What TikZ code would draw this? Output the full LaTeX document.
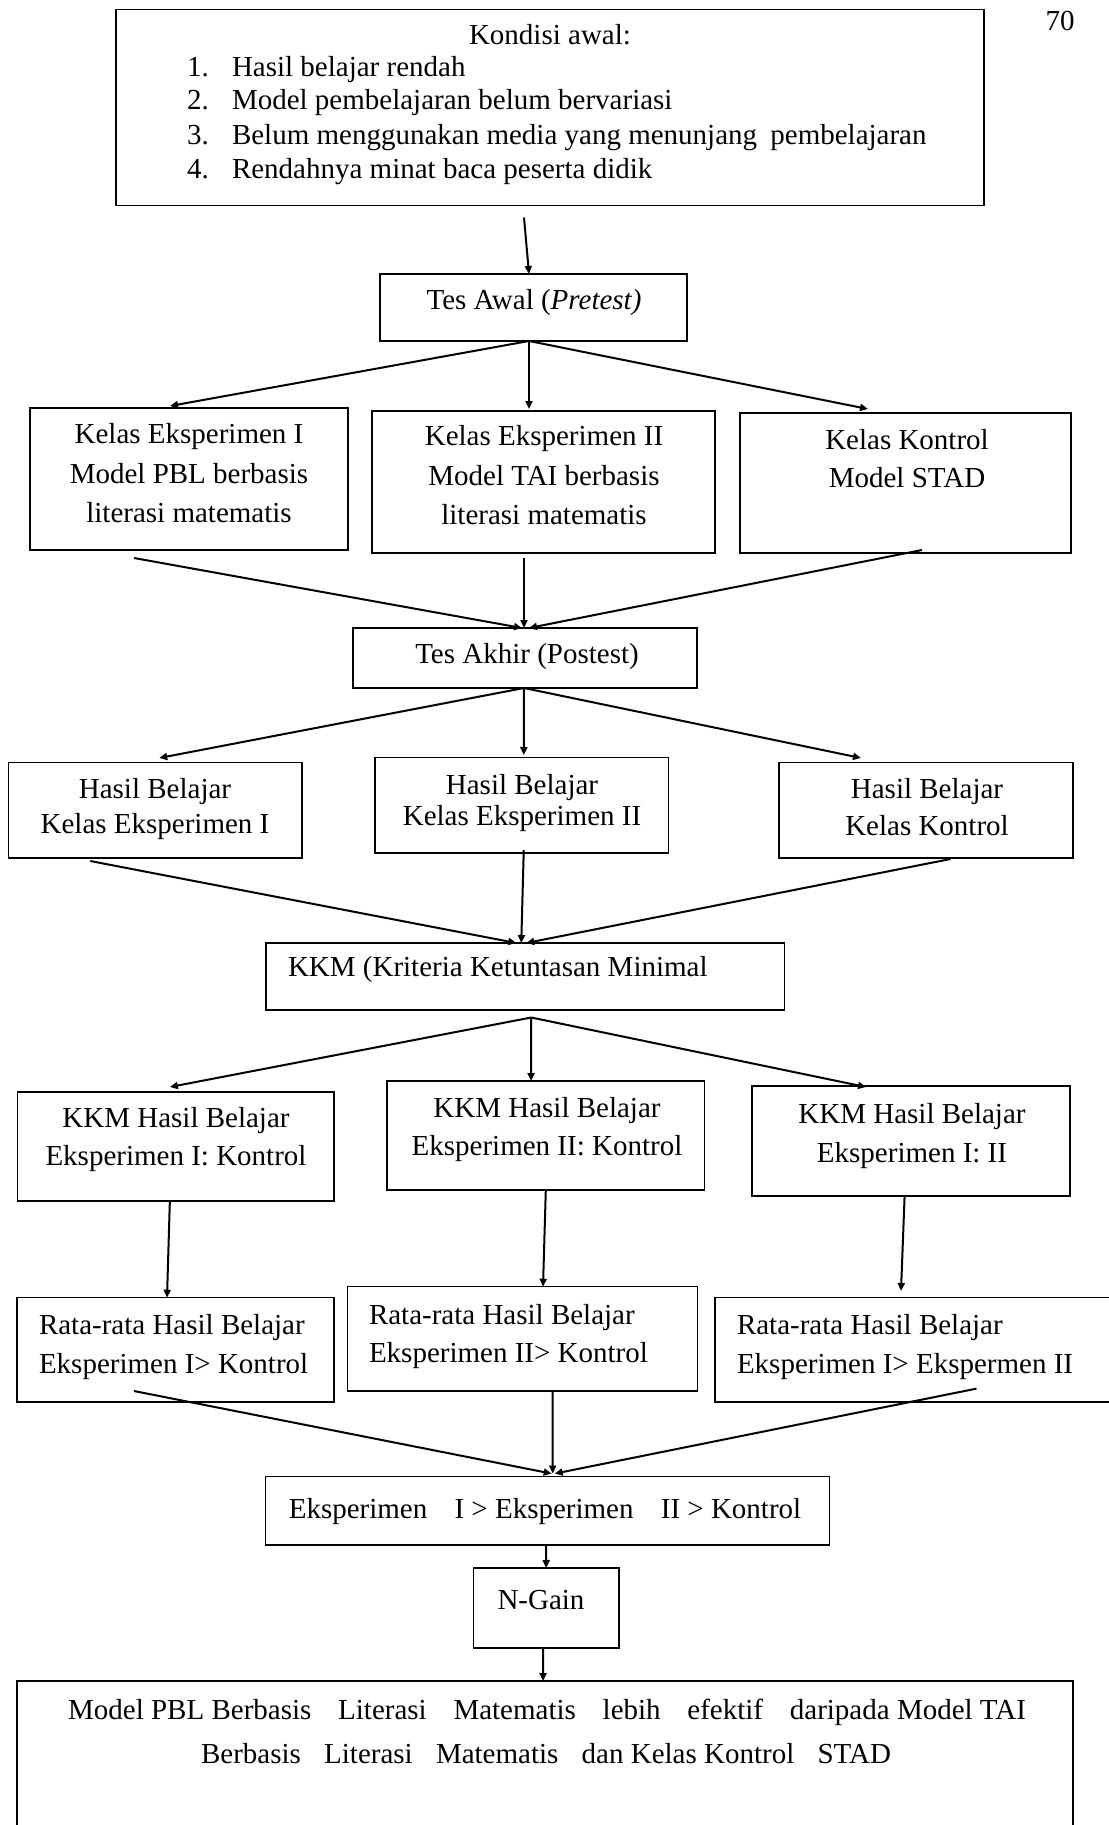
\documentclass[tikz,border=0pt]{standalone}
\usepackage{fontspec}
\setmainfont{Liberation Serif}
\usetikzlibrary{arrows.meta,calc}
\begin{document}
\begin{tikzpicture}[x=1pt,y=-1pt,
  box/.style={draw, line width=1.5pt, inner sep=0pt, outer sep=0pt, anchor=north west},
  txt/.style={inner sep=0pt, outer sep=0pt, anchor=base, font=\fontsize{29}{34}\selectfont},
  ltxt/.style={txt, anchor=base west},
  arr/.style={line width=2pt, -{Triangle[length=8pt,width=7pt]}},
]
\useasboundingbox (0,0) rectangle (1108,1825);

% ---------- boxes ----------
\node[box, minimum width=868pt, minimum height=196pt] (top) at (116,9.5) {};
\node[box, minimum width=307pt, minimum height=67pt] (tesawal) at (380,274) {};
\node[box, minimum width=318pt, minimum height=142pt] (ke1) at (30,408) {};
\node[box, minimum width=343pt, minimum height=142pt] (ke2) at (372,411) {};
\node[box, minimum width=331pt, minimum height=140pt] (kk) at (740,413) {};
\node[box, minimum width=344pt, minimum height=60pt] (tesakhir) at (353,628) {};
\node[box, minimum width=293.5pt, minimum height=95.5pt] (hb1) at (8.5,762.5) {};
\node[box, minimum width=293.5pt, minimum height=95.5pt] (hb2) at (375,757.5) {};
\node[box, minimum width=294pt, minimum height=95.5pt] (hb3) at (779,762.5) {};
\node[box, minimum width=518.5pt, minimum height=67pt] (kkm) at (266,943) {};
\node[box, minimum width=316.3pt, minimum height=109pt] (k1) at (17.7,1092) {};
\node[box, minimum width=317.6pt, minimum height=109pt] (k2) at (387,1081) {};
\node[box, minimum width=318pt, minimum height=110pt] (k3) at (752,1086) {};
\node[box, minimum width=317pt, minimum height=104.3pt] (r1) at (17,1297.7) {};
\node[box, minimum width=349.8pt, minimum height=104.3pt] (r2) at (347.7,1286.7) {};
\node[box, minimum width=415pt, minimum height=104.3pt] (r3) at (715,1297.7) {};
\node[box, minimum width=564pt, minimum height=68.4pt] (eks) at (265.7,1476.6) {};
\node[box, minimum width=145.5pt, minimum height=80pt] (ngain) at (473.5,1568) {};
\node[box, minimum width=1056pt, minimum height=179pt] (final) at (17,1681) {};

% ---------- texts ----------
\node[txt] (pg) at (1060,31) {70};

\node[txt] (t0) at (550,45) {Kondisi awal:};
\node[ltxt] (n1) at (187,77) {1.};
\node[ltxt] (i1) at (232,77) {Hasil belajar rendah};
\node[ltxt] (n2) at (187,110) {2.};
\node[ltxt] (i2) at (232,110) {Model pembelajaran belum bervariasi};
\node[ltxt] (n3) at (187,144) {3.};
\node[ltxt] (i3) at (232,144) {Belum menggunakan media yang menunjang\hspace{6pt} pembelajaran};
\node[ltxt] (n4) at (187,178) {4.};
\node[ltxt] (i4) at (232,178) {Rendahnya minat baca peserta didik};

\node[txt] (tta) at (534,309) {Tes Awal (\textit{Pretest)}};

\node[txt] (ke1a) at (189,443) {Kelas Eksperimen I};
\node[txt] (ke1b) at (189,483) {Model PBL berbasis};
\node[txt] (ke1c) at (189,522) {literasi matematis};

\node[txt] (ke2a) at (544,445) {Kelas Eksperimen II};
\node[txt] (ke2b) at (544,485) {Model TAI berbasis};
\node[txt] (ke2c) at (544,524) {literasi matematis};

\node[txt] (kka) at (907,449) {Kelas Kontrol};
\node[txt] (kkb) at (907,487) {Model STAD};

\node[txt] (tak) at (527,663) {Tes Akhir (Postest)};

\node[txt] (hb1a) at (155,798) {Hasil Belajar};
\node[txt] (hb1b) at (155,833) {Kelas Eksperimen I};
\node[txt] (hb2a) at (522,794) {Hasil Belajar};
\node[txt] (hb2b) at (522,825) {Kelas Eksperimen II};
\node[txt] (hb3a) at (927,798) {Hasil Belajar};
\node[txt] (hb3b) at (927,835) {Kelas Kontrol};

\node[ltxt] (kkmt) at (288,976) {KKM (Kriteria Ketuntasan Minimal};

\node[txt] (k1a) at (176,1127) {KKM Hasil Belajar};
\node[txt] (k1b) at (176,1165) {Eksperimen I: Kontrol};
\node[txt] (k2a) at (547,1117) {KKM Hasil Belajar};
\node[txt] (k2b) at (547,1155) {Eksperimen II: Kontrol};
\node[txt] (k3a) at (912,1123) {KKM Hasil Belajar};
\node[txt] (k3b) at (912,1162) {Eksperimen I: II};

\node[ltxt] (r1a) at (39,1334) {Rata-rata Hasil Belajar};
\node[ltxt] (r1b) at (39,1373) {Eksperimen I> Kontrol};
\node[ltxt] (r2a) at (369,1324) {Rata-rata Hasil Belajar};
\node[ltxt] (r2b) at (369,1362) {Eksperimen II> Kontrol};
\node[ltxt] (r3a) at (737,1334) {Rata-rata Hasil Belajar};
\node[ltxt] (r3b) at (737,1373) {Eksperimen I> Ekspermen II};

\node[txt] (ekst) at (545,1518) {Eksperimen\hspace{20pt} I > Eksperimen\hspace{20pt} II > Kontrol};

\node[txt] (ngt) at (541,1609) {N-Gain};

\node[txt] (f1) at (547,1719) {Model PBL Berbasis\hspace{19.5pt} Literasi\hspace{19.5pt} Matematis\hspace{19.5pt} lebih\hspace{19.5pt} efektif\hspace{19.5pt} daripada Model TAI};
\node[txt] (f2) at (546,1763) {Berbasis\hspace{16pt} Literasi\hspace{16pt} Matematis\hspace{16pt} dan Kelas Kontrol\hspace{16pt} STAD};

% ---------- connectors ----------
\draw[arr] ($(top.south)+(-26,12)$) -- ($(tesawal.north)+(-4.5,0)$);

\coordinate (sa) at ($(tesawal.south)+(-4.5,0)$);
\draw[arr] (sa) -- ($(ke1.north)+(-19,-2)$);
\draw[arr] (sa) -- ($(ke2.north)+(-14.5,-2)$);
\draw[arr] (sa) -- ($(kk.north)+(-37.5,-4)$);

\draw[arr] ($(ke1.south)+(-55,8)$) -- ($(tesakhir.north)+(-3,0)$);
\draw[arr] ($(ke2.south)+(-19.5,5)$) -- ($(tesakhir.north)+(-1,0)$);
\draw[arr] ($(kk.south)+(16.5,-3)$) -- ($(tesakhir.north)+(4,0)$);

\coordinate (sb) at ($(tesakhir.south)+(-1,0)$);
\draw[arr] (sb) -- ($(hb1.north)+(4,-4.5)$);
\draw[arr] (sb) -- ($(hb2.north)+(2,-2.5)$);
\draw[arr] (sb) -- ($(hb3.north)+(-65,-4.5)$);

\draw[arr] ($(hb1.south)+(-65,3)$) -- ($(kkm.north)+(-9,0)$);
\draw[arr] ($(hb2.south)+(2,-3)$) -- ($(kkm.north)+(-4,0)$);
\draw[arr] ($(hb3.south)+(24.5,1)$) -- ($(kkm.north)+(1,0)$);

\coordinate (sc) at ($(kkm.south)+(6,7.5)$);
\draw[arr] (sc) -- ($(k1.north)+(-6,-5)$);
\draw[arr] (sc) -- ($(k2.north)+(-14.8,0)$);
\draw[arr] (sc) -- ($(k3.north)+(-45,1)$);

\draw[arr] ($(k1.south)+(-6,0)$) -- ($(r1.north)+(-8.5,0)$);
\draw[arr] ($(k2.south)+(0,0)$) -- ($(r2.north)+(20.4,0)$);
\draw[arr] ($(k3.south)+(-6.4,0)$) -- ($(r3.north)+(-21.5,-6.7)$);

\draw[arr] ($(r1.south)+(-41.5,-11)$) -- ($(eks.north)+(4,-3)$);
\draw[arr] ($(r2.south)+(30,0)$) -- ($(eks.north)+(5,-3)$);
\draw[arr] ($(r3.south)+(54,-13.4)$) -- ($(eks.north)+(7,-3)$);

\draw[arr] ($(eks.south)+(-1.7,0)$) -- (ngain.north);
\draw[arr] ($(ngain.south)+(-3,0)$) -- ($(final.north)+(-2,0)$);
\end{tikzpicture}
\end{document}
